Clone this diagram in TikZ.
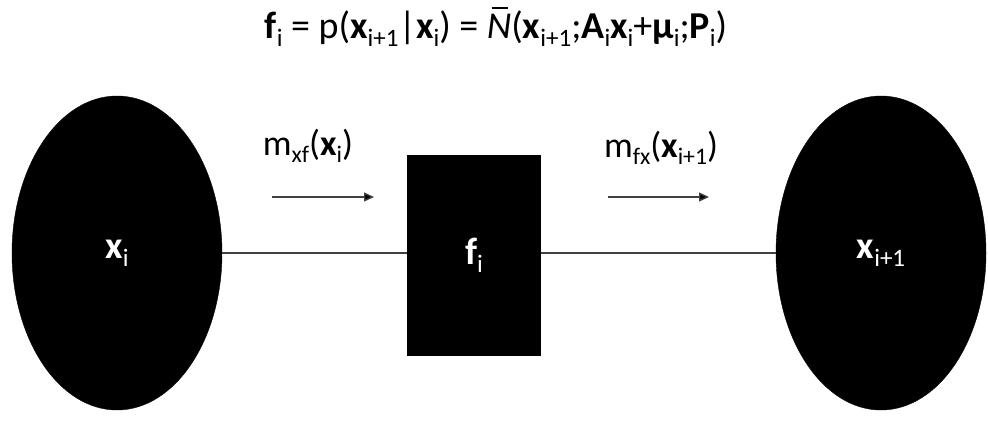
\documentclass[tikz,border=0pt]{standalone}
\usepackage{fontspec}
\setmainfont{Carlito}
\usetikzlibrary{shapes.geometric,arrows.meta}
\newcommand{\sbs}[1]{\raisebox{-0.2em}{\scalebox{0.66}{#1}}}
\newcommand{\Nbr}{\textit{N}\kern-0.52em\raisebox{0.78em}{\rule{0.42em}{0.05em}}\kern0.1em}
\begin{document}
\begin{tikzpicture}[x=1pt,y=-1pt,
  varnode/.style={ellipse,fill=black,draw=black,minimum width=210pt,minimum height=314pt,inner sep=0pt,text=white,font=\fontsize{38}{40}\selectfont},
  facnode/.style={rectangle,fill=black,draw=black,minimum width=133pt,minimum height=200pt,inner sep=0pt,text=white,font=\fontsize{38}{40}\selectfont},
  edge/.style={draw=black!75,line width=1.4pt},
  msgarrow/.style={draw=black!75,line width=1.3pt,-{Triangle[length=10pt,width=9pt,fill=black]}},
  lbl/.style={font=\fontsize{36}{40}\selectfont,inner sep=0pt}]
\useasboundingbox (0,0) rectangle (988,421);
\node[varnode] (xi) at (117,253) {\raisebox{-5pt}{\textbf{x}\sbs{i}}};
\node[facnode] (fi) at (474,255) {\raisebox{-4pt}{\textbf{f}\sbs{i}}};
\node[varnode] (xj) at (881,253) {\raisebox{-5pt}{\textbf{x}\sbs{i+1}}};
\draw[edge] (xi.east) -- (fi.west |- xi.east);
\draw[edge] (fi.east |- xj.west) -- (xj.west);
\coordinate (a1s) at (272,197);
\coordinate (a1e) at (374,197);
\coordinate (a2s) at (608,197);
\coordinate (a2e) at (709,197);
\draw[msgarrow] (a1s) -- (a1e);
\draw[msgarrow] (a2s) -- (a2e);
\node[lbl] (m1) at (308,146) {m\sbs{xf}(\textbf{x}\sbs{i})};
\node[lbl] (m2) at (661,148) {m\sbs{fx}(\textbf{x}\sbs{i+1})};
\node[lbl,font=\fontsize{38}{42}\selectfont] (title) at (496,27) {\textbf{f}\sbs{i} = p(\textbf{x}\sbs{i+1}|\textbf{x}\sbs{i}) = \Nbr(\textbf{x}\sbs{i+1};\textbf{A}\sbs{i}\textbf{x}\sbs{i}+\textbf{\symbol{"03BC}}\sbs{i};\textbf{P}\sbs{i})};
\end{tikzpicture}
\end{document}
